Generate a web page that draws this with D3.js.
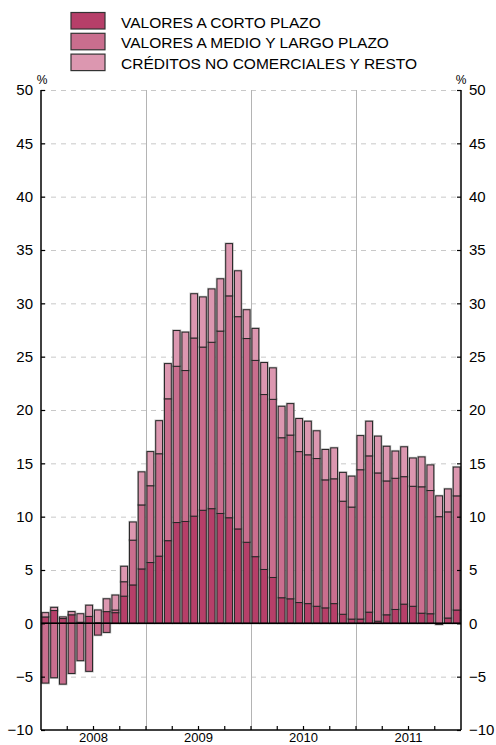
<!DOCTYPE html>
<html>
<head>
<meta charset="utf-8">
<script src="https://cdn.jsdelivr.net/npm/d3@7/dist/d3.min.js"></script>
<style>
  html, body { margin: 0; padding: 0; background: #fff; }
  svg { display: block; font-family: "Liberation Sans", Arial, Helvetica, sans-serif; }
</style>
</head>
<body>
<svg id="chart" width="496" height="745"></svg>
<script>
// Monthly contributions (percentage points), Jan 2008 – Dec 2011
const years = ["2008", "2009", "2010", "2011"];

const seriesNames = [
  "VALORES A CORTO PLAZO",
  "VALORES A MEDIO Y LARGO PLAZO",
  "CRÉDITOS NO COMERCIALES Y RESTO"
];

const corto = [
  0.6, 1.2, 0.45, 0.8, 0.1, 0.65, 0.05, 1.1, 1.0, 2.55, 3.6, 5.1,
  5.7, 6.3, 7.75, 9.45, 9.55, 10.05, 10.6, 10.75, 10.3, 9.9, 8.85, 7.6,
  6.25, 5.05, 4.3, 2.4, 2.3, 1.95, 1.85, 1.6, 1.45, 1.85, 0.85, 0.4,
  0.4, 1.05, 0.2, 0.8, 1.3, 1.8, 1.6, 0.95, 0.9, -0.1, 0.5, 1.25
];

const medio = [
  -5.6, -5.1, -5.7, -4.7, -3.5, -4.5, -1.1, -0.85, 0.25, 1.35, 4.2, 6.0,
  7.2, 9.6, 13.3, 14.65, 14.15, 16.7, 15.3, 15.6, 17.1, 20.8, 19.9, 19.1,
  18.4, 16.4, 16.7, 15.0, 15.35, 14.15, 13.95, 13.85, 12.0, 11.7, 10.6, 10.5,
  14.0, 14.65, 13.9, 12.55, 12.3, 11.95, 11.25, 11.85, 11.55, 10.0, 9.95, 10.7
];

const creditos = [
  0.4, 0.3, 0.15, 0.3, 0.8, 1.05, 1.2, 1.2, 1.4, 1.45, 1.7, 3.1,
  3.2, 3.1, 3.3, 3.35, 3.6, 4.15, 4.7, 5.0, 4.9, 4.9, 4.3, 2.7,
  3.0, 3.0, 2.95, 2.95, 2.95, 3.1, 3.15, 2.6, 2.85, 2.9, 2.7, 2.9,
  3.2, 3.25, 3.45, 3.25, 2.55, 2.8, 2.65, 2.8, 2.4, 1.95, 2.15, 2.7
];

const yTicks = [-10, -5, 0, 5, 10, 15, 20, 25, 30, 35, 40, 45, 50];

const colors = ["#b63f69", "#c96e8e", "#dc97b0"];

// One row per month
const months = years.flatMap(yr => d3.range(1, 13).map(m => `${yr}-${String(m).padStart(2, "0")}`));
const keys = ["corto", "medio", "creditos"];
const table = months.map((m, i) => ({ month: m, corto: corto[i], medio: medio[i], creditos: creditos[i] }));

const svg = d3.select("#chart");
const plotLeft = 41, plotRight = 461, plotTop = 90, plotBottom = 730;

const x = d3.scaleBand().domain(months).range([plotLeft, plotRight]).paddingInner(0.22).paddingOuter(0.11);
const y = d3.scaleLinear().domain([-10, 50]).range([plotBottom, plotTop]);
const xYear = d3.scaleBand().domain(years).range([plotLeft, plotRight]);

// Horizontal dashed grid
svg.append("g")
  .selectAll("line")
  .data(yTicks.filter(t => t !== -10 && t !== 0))
  .join("line")
  .attr("x1", plotLeft).attr("x2", plotRight)
  .attr("y1", d => y(d) + 0.5).attr("y2", d => y(d) + 0.5)
  .attr("stroke", "#c8c8c8")
  .attr("stroke-width", 1)
  .attr("stroke-dasharray", "5,5");

// Vertical separators between years
svg.append("g")
  .selectAll("line")
  .data(years.slice(1))
  .join("line")
  .attr("x1", d => Math.round(xYear(d)) + 0.5).attr("x2", d => Math.round(xYear(d)) + 0.5)
  .attr("y1", plotTop).attr("y2", plotBottom)
  .attr("stroke", "#b4b4b4")
  .attr("stroke-width", 1);

// Stacked bars, positives up and negatives down from zero
const stack = d3.stack().keys(keys).offset(d3.stackOffsetDiverging);
const layers = stack(table);

const barG = svg.append("g");
layers.forEach(layer => {
  barG.append("g").selectAll("rect")
    .data(layer)
    .join("rect")
    .attr("x", d => x(d.data.month))
    .attr("width", x.bandwidth())
    .attr("y", d => y(Math.max(d[0], d[1])))
    .attr("height", d => Math.abs(y(d[0]) - y(d[1])))
    .attr("fill", "none")
    .attr("stroke", "#9a9a9a")
    .attr("stroke-width", 2.4)
    .attr("stroke-opacity", 0.6);
});
layers.forEach((layer, li) => {
  barG.append("g").selectAll("rect")
    .data(layer)
    .join("rect")
    .attr("x", d => x(d.data.month))
    .attr("width", x.bandwidth())
    .attr("y", d => y(Math.max(d[0], d[1])))
    .attr("height", d => Math.abs(y(d[0]) - y(d[1])))
    .attr("fill", colors[li])
    .attr("stroke", "#262626")
    .attr("stroke-width", 1);
});

// Zero line
svg.append("line")
  .attr("x1", plotLeft).attr("x2", plotRight)
  .attr("y1", y(0)).attr("y2", y(0))
  .attr("stroke", "#000").attr("stroke-width", 1.5);

// Axes frame
const axisG = svg.append("g").attr("stroke", "#000").attr("stroke-width", 1.5);
axisG.append("line").attr("x1", plotLeft).attr("x2", plotLeft).attr("y1", plotTop).attr("y2", plotBottom);
axisG.append("line").attr("x1", plotRight).attr("x2", plotRight).attr("y1", plotTop).attr("y2", plotBottom);
axisG.append("line").attr("x1", plotLeft).attr("x2", plotRight).attr("y1", plotBottom).attr("y2", plotBottom);

// Value axis ticks and labels
const yAxisL = d3.axisLeft(y).tickValues(yTicks).tickSize(-4).tickPadding(8).tickFormat(d3.format("d"));
const yAxisR = d3.axisRight(y).tickValues(yTicks).tickSize(-4).tickPadding(8).tickFormat(d3.format("d"));
[[yAxisL, plotLeft], [yAxisR, plotRight]].forEach(([ax, xp]) => {
  const g = svg.append("g").attr("transform", `translate(${xp},0)`).call(ax);
  g.select(".domain").remove();
  g.selectAll(".tick line").attr("stroke", "#000").attr("stroke-width", 1.2);
  g.selectAll(".tick text")
    .attr("font-family", "'Liberation Sans', Arial, sans-serif")
    .attr("font-size", 15)
    .attr("fill", "#000");
});

// Quarterly ticks on the time axis
const quarterStarts = months.filter((m, i) => i % 3 === 0 && i > 0);
svg.append("g")
  .selectAll("line")
  .data(quarterStarts)
  .join("line")
  .attr("x1", d => x(d) - x.step() * x.paddingInner() / 2)
  .attr("x2", d => x(d) - x.step() * x.paddingInner() / 2)
  .attr("y1", plotBottom).attr("y2", plotBottom - 4)
  .attr("stroke", "#000").attr("stroke-width", 1.2);

// Year labels
svg.append("g")
  .selectAll("text")
  .data(years)
  .join("text")
  .attr("x", d => xYear(d) + xYear.bandwidth() / 2)
  .attr("y", 742)
  .attr("text-anchor", "middle")
  .attr("font-size", 13)
  .text(d => d);

// Unit markers
svg.append("text").attr("x", 42).attr("y", 84).attr("text-anchor", "middle").attr("font-size", 12).text("%");
svg.append("text").attr("x", 461).attr("y", 84).attr("text-anchor", "middle").attr("font-size", 12).text("%");

// Legend
const legend = svg.append("g");
seriesNames.forEach((name, i) => {
  const ly = 12.5 + i * 20.8;
  legend.append("rect")
    .attr("x", 71).attr("y", ly).attr("width", 34).attr("height", 16.5)
    .attr("fill", colors[i]).attr("stroke", "#333").attr("stroke-width", 1.2);
  legend.append("text")
    .attr("x", 121).attr("y", ly + 15)
    .attr("font-size", 15.5)
    .text(name);
});
</script>
</body>
</html>
